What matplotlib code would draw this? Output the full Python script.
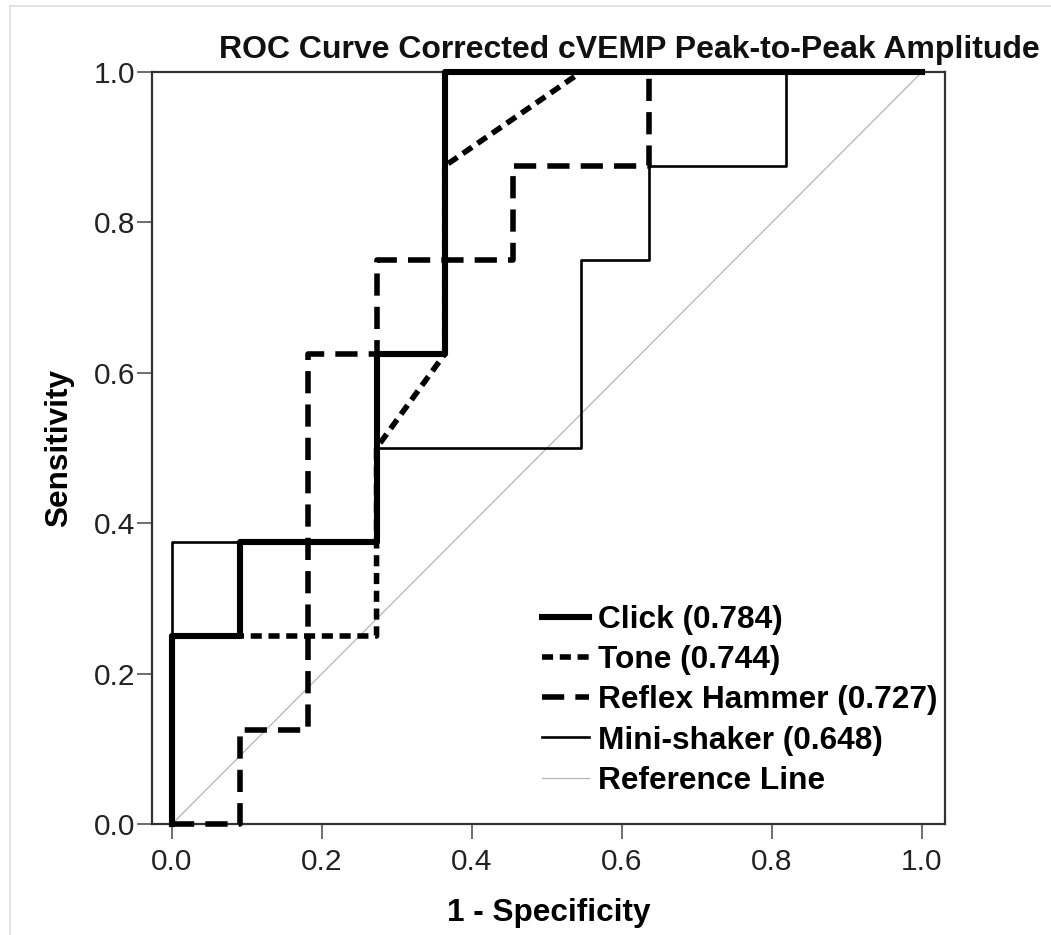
import matplotlib
matplotlib.use('Agg')
import matplotlib.pyplot as plt
from matplotlib.lines import Line2D

plt.rcParams['font.family'] = ['Liberation Sans', 'DejaVu Sans']

# ROC points (1 - specificity, sensitivity); steps of 1/11 and 1/8
click_x = [0, 0, 1/11, 1/11, 3/11, 3/11, 4/11, 4/11, 1]
click_y = [0, 0.25, 0.25, 0.375, 0.375, 0.625, 0.625, 1.0, 1.0]

tone_x = [0, 0, 3/11, 3/11, 4/11, 4/11, 6/11, 1]
tone_y = [0, 0.25, 0.25, 0.5, 0.625, 0.875, 1.0, 1.0]

hammer_x = [0, 1/11, 1/11, 2/11, 2/11, 3/11, 3/11, 5/11, 5/11, 7/11, 7/11, 1]
hammer_y = [0, 0, 0.125, 0.125, 0.625, 0.625, 0.75, 0.75, 0.875, 0.875, 1.0, 1.0]

shaker_x = [0, 0, 3/11, 3/11, 6/11, 6/11, 7/11, 7/11, 9/11, 9/11, 1]
shaker_y = [0, 0.375, 0.375, 0.5, 0.5, 0.75, 0.75, 0.875, 0.875, 1.0, 1.0]

labels = ['Click (0.784)', 'Tone (0.744)', 'Reflex Hammer (0.727)',
          'Mini-shaker (0.648)', 'Reference Line']
ticks = [0.0, 0.2, 0.4, 0.6, 0.8, 1.0]

W, H = 1051, 935
fig = plt.figure(figsize=(W / 100, H / 100), dpi=100)
ax = fig.add_axes([152 / W, 1 - 824 / H, (945 - 152) / W, (824 - 72) / H])

# light frame around the picture
fig.add_artist(Line2D([10 / W, 10 / W], [0, 1 - 6 / H], color='#dddddd', lw=1.2))
fig.add_artist(Line2D([10 / W, 1], [1 - 6 / H, 1 - 6 / H], color='#dddddd', lw=1.2))

ax.plot([0, 1], [0, 1], color='#b5b5b5', lw=0.9, label=labels[4], zorder=2)
ax.plot(shaker_x, shaker_y, color='black', lw=1.9, label=labels[3], zorder=3, clip_on=False)
ax.plot(hammer_x, hammer_y, color='black', lw=4.0, ls=(0, (4.0, 2.0)),
        label=labels[2], zorder=4, clip_on=False)
ax.plot(tone_x, tone_y, color='black', lw=4.0, ls=(0, (2.0, 1.2)),
        label=labels[1], zorder=5, clip_on=False)
ax.plot(click_x, click_y, color='black', lw=4.4, label=labels[0], zorder=6, clip_on=False)

ax.set_xlim(-0.0267, 1.0307)
ax.set_ylim(0, 1)
ax.set_xticks(ticks)
ax.set_yticks(ticks)
ax.set_xticklabels([f'{t:.1f}' for t in ticks])
ax.set_yticklabels([f'{t:.1f}' for t in ticks])
ax.tick_params(axis='x', length=11, width=1.2, color='#555555', pad=6,
               labelsize=21.5, labelcolor='#222222')
ax.tick_params(axis='y', length=11, width=1.2, color='#555555', pad=1,
               labelsize=21.5, labelcolor='#222222')
for s in ax.spines.values():
    s.set_linewidth(1.6)
    s.set_color('#333333')

ax.set_xlabel('1 - Specificity', fontsize=22.7, fontweight='bold', labelpad=16)
ax.set_ylabel('Sensitivity', fontsize=22.7, fontweight='bold', labelpad=14)
fig.text(1040 / W, 1 - 58 / H, 'ROC Curve Corrected cVEMP Peak-to-Peak Amplitude',
         ha='right', va='baseline', fontsize=23, fontweight='bold', color='#111111')

handles, labs = ax.get_legend_handles_labels()
order = [4, 3, 2, 1, 0]
ax.legend([handles[i] for i in order], [labs[i] for i in order],
          loc='upper left', bbox_to_anchor=(0.4918, 0.291), frameon=False,
          prop={'weight': 'bold', 'size': 22.8}, borderpad=0, borderaxespad=0,
          handlelength=1.5, handletextpad=0.26, labelspacing=0.32)

fig.savefig('out.png', dpi=100)
